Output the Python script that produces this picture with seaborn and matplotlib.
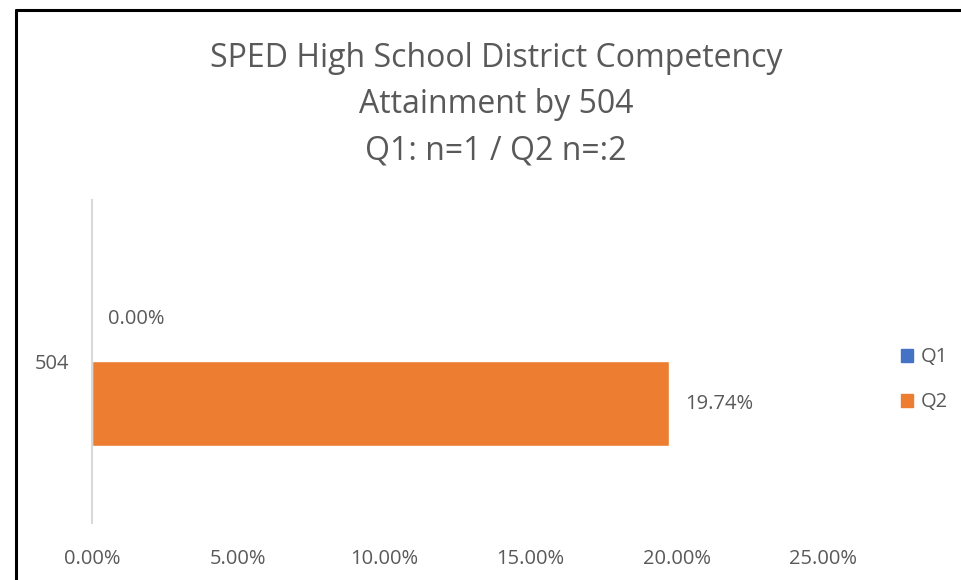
import matplotlib
matplotlib.use("Agg")
import matplotlib.pyplot as plt
import matplotlib.lines as mlines
import seaborn as sns
import pandas as pd

# ---------------------------------------------------
# Data
# ---------------------------------------------------
categories = ["504", "504"]
series = ["Q1", "Q2"]
values = [0.00, 19.74]
x_ticks = [0, 5, 10, 15, 20, 25]

title = "SPED High School District Competency\nAttainment by 504\nQ1: n=1 / Q2 n=:2"
colors = {"Q1": "#4472C4", "Q2": "#ED7D31"}
text_gray = "#595959"

df = pd.DataFrame({"group": categories, "quarter": series, "pct": values})

sns.set_style("white")
plt.rcParams["font.family"] = ["Open Sans", "DejaVu Sans"]

fig = plt.figure(figsize=(9.61, 5.8), dpi=100)
ax = fig.add_axes([0.0957, 0.0983, 0.7607, 0.557])

sns.barplot(data=df, y="group", x="pct", hue="quarter", orient="h",
            palette=colors, width=0.526, saturation=1, ax=ax, legend=False)

ax.set_xlim(0, 25)
ax.set_ylim(0.5, -0.5)
ax.set_xticks(x_ticks)
ax.set_xticklabels([f"{t:.2f}%" for t in x_ticks])
ax.set_xlabel("")
ax.set_ylabel("")
ax.tick_params(axis="both", length=0, labelsize=14.5, colors=text_gray)
ax.tick_params(axis="x", pad=19)
ax.tick_params(axis="y", pad=16)

for s in ["top", "right", "bottom"]:
    ax.spines[s].set_visible(False)
ax.spines["left"].set_color("#d9d9d9")
ax.spines["left"].set_linewidth(1.5)

# data labels
for bar, v in zip(ax.patches, values):
    y = bar.get_y() + bar.get_height() / 2
    ax.annotate(f"{v:.2f}%", (bar.get_width(), y), xytext=(16, 0),
                textcoords="offset pixels", va="center", ha="left",
                fontsize=14.5, color=text_gray)

# legend
handles = [plt.Rectangle((0, 0), 1, 1, color=colors[s]) for s in series]
fig.legend(handles, series, loc="center left", bbox_to_anchor=(0.919, 0.345),
           frameon=False, fontsize=14.5, labelcolor=text_gray,
           handlelength=0.6, handleheight=0.6, handletextpad=0.35,
           labelspacing=1.25)

fig.text(0.516, 0.819, title, ha="center", va="center", fontsize=23,
         color=text_gray, linespacing=1.53)

# chart border (top and left only visible in the crop)
W, H = 961, 580
fig.add_artist(mlines.Line2D([15.5 / W, 15.5 / W], [0, 1 - 9.5 / H],
                             color="black", lw=2.2, transform=fig.transFigure))
fig.add_artist(mlines.Line2D([15.5 / W, 1], [1 - 9.5 / H, 1 - 9.5 / H],
                             color="black", lw=2.2, transform=fig.transFigure))

fig.savefig("out.png", dpi=100, facecolor="white")
